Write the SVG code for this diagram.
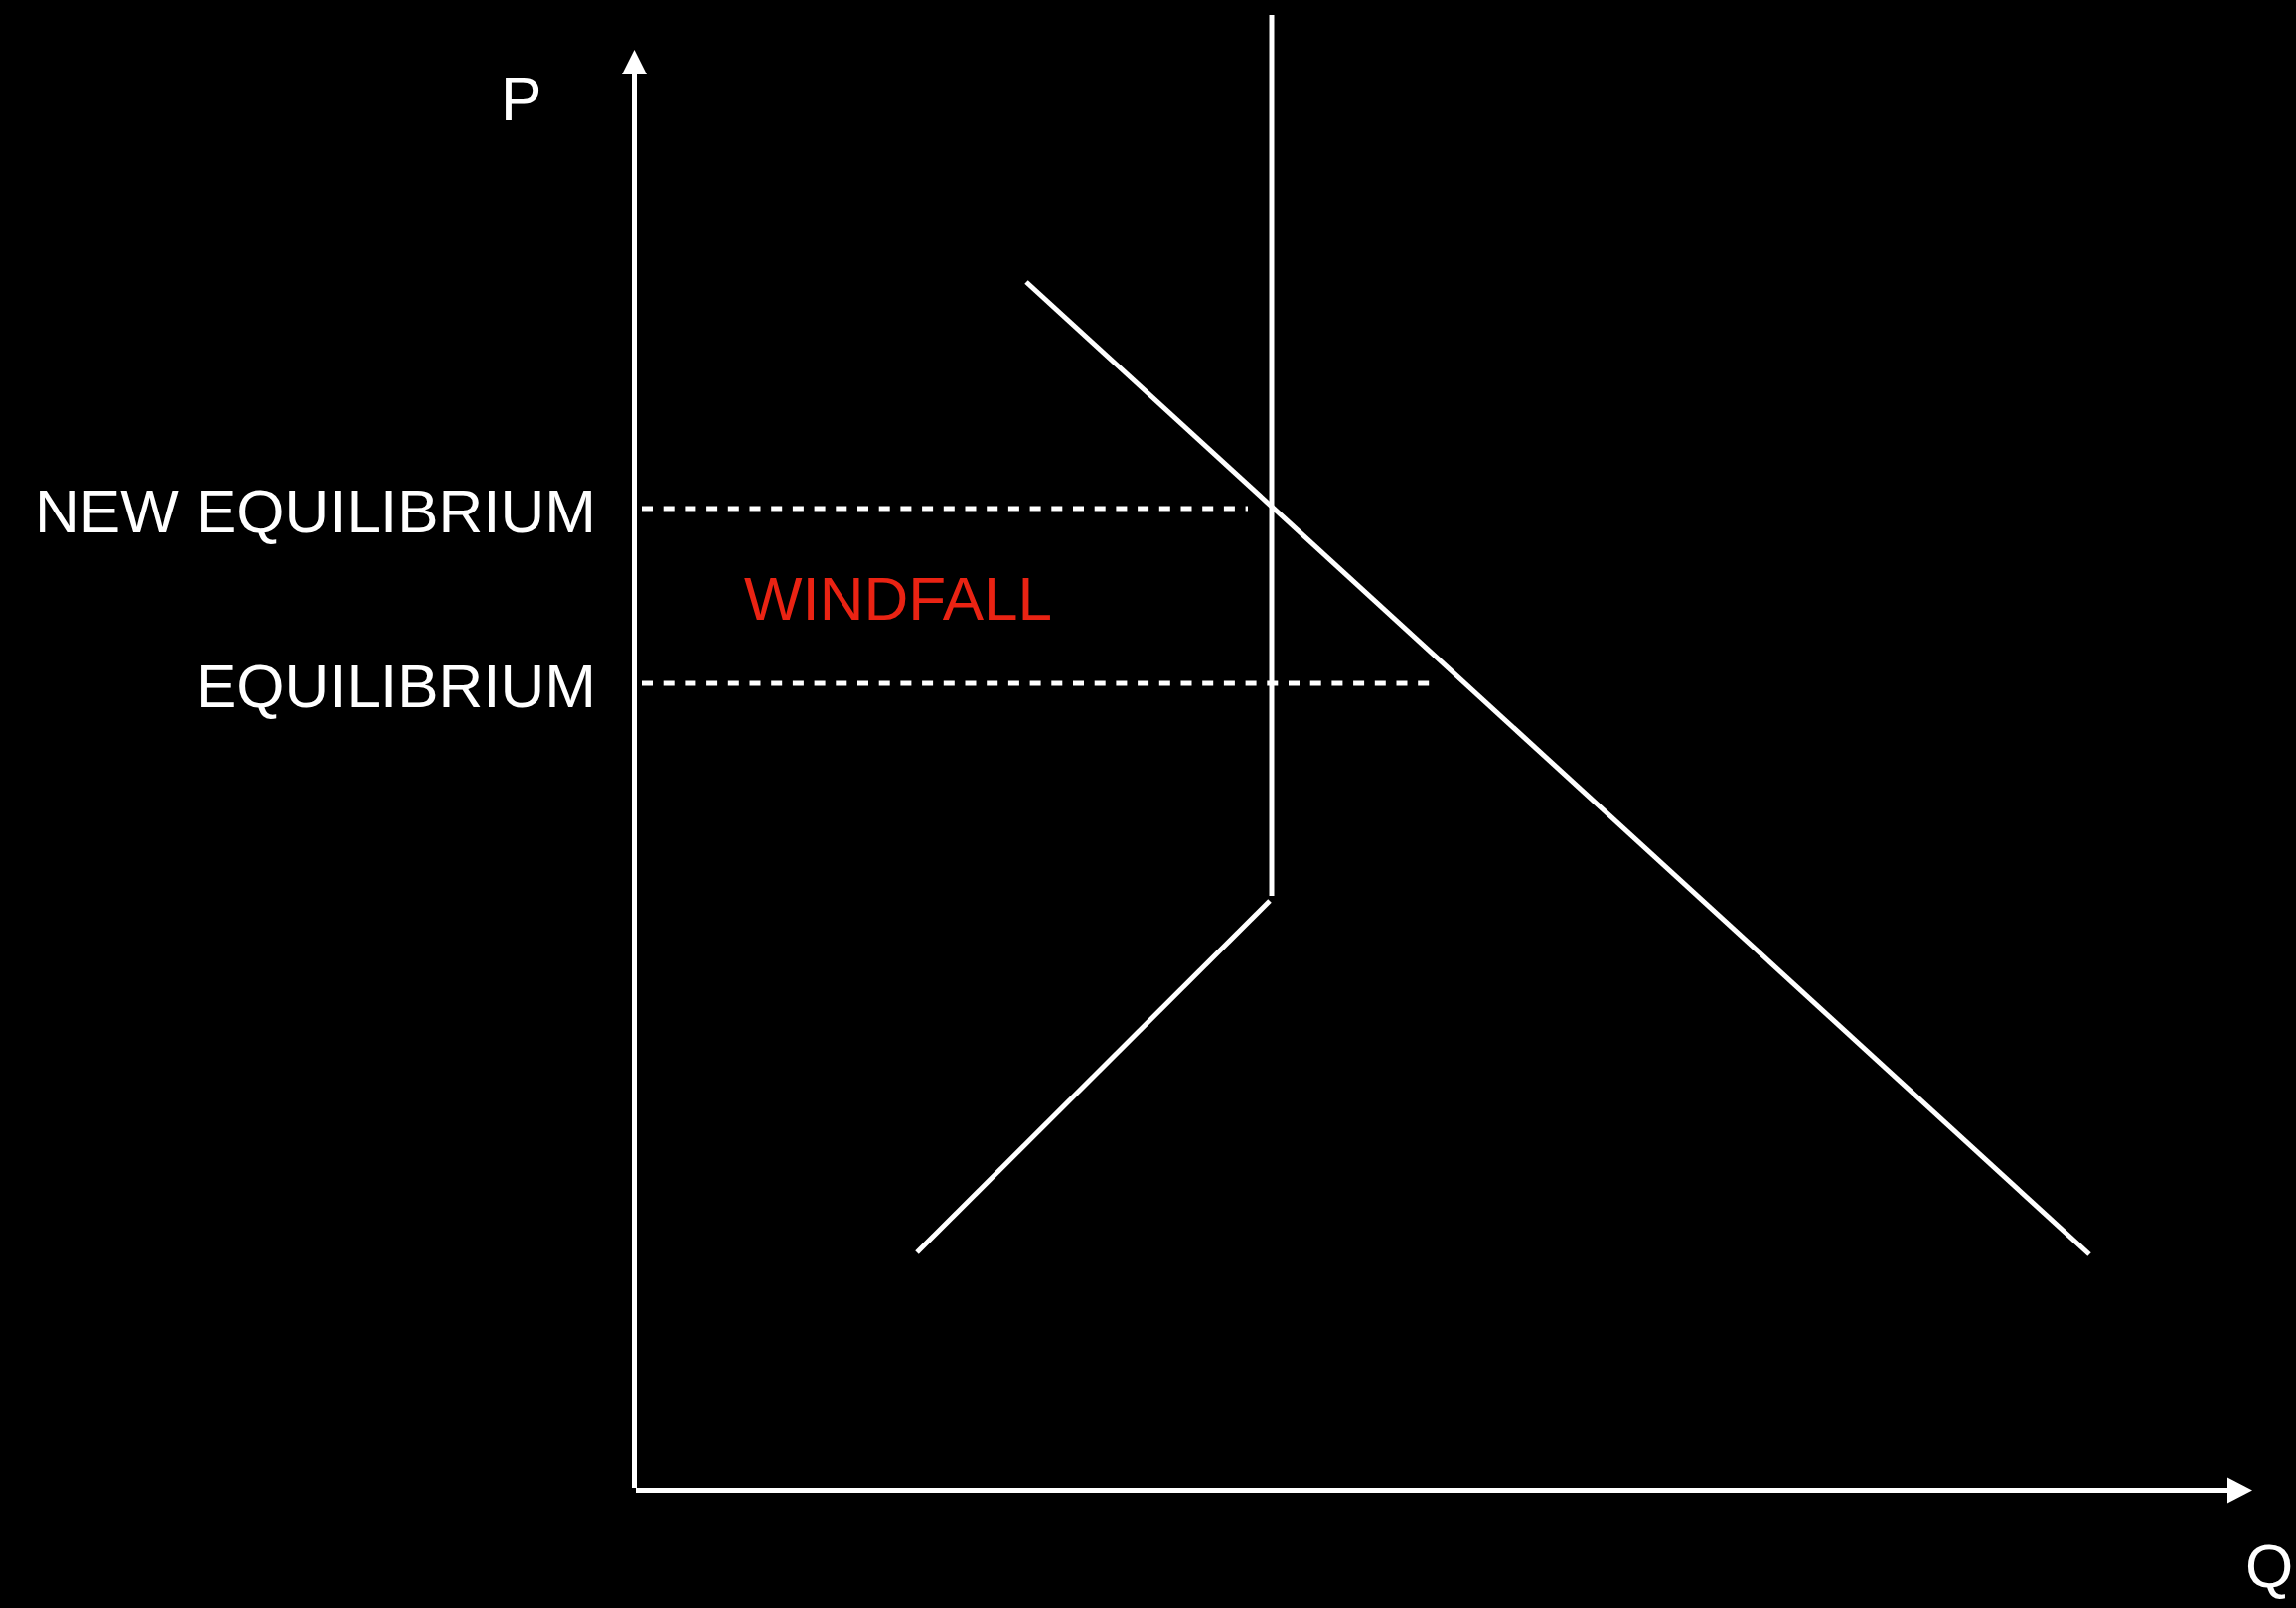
<svg xmlns="http://www.w3.org/2000/svg" width="2311" height="1619" viewBox="0 0 2311 1619">
  <style>
    .ln { stroke: #ffffff; stroke-width: 5; fill: none; }
    .dash { stroke: #ffffff; stroke-width: 5; fill: none; stroke-dasharray: 11 10.7; }
    .lbl { font-family: "Liberation Sans", Arial, sans-serif; font-size: 62px; fill: #ffffff; }
    .red { font-family: "Liberation Sans", Arial, sans-serif; font-size: 62px; fill: #ea2313; }
  </style>
  <rect x="0" y="0" width="2311" height="1619" fill="#000000"/>
  <g id="axes">
    <line class="ln" x1="638.5" y1="72" x2="638.5" y2="1498"/>
    <polygon points="638.5,50 626,75 651,75" fill="#ffffff"/>
    <line class="ln" x1="640" y1="1500.5" x2="2245" y2="1500.5"/>
    <polygon points="2267,1500.5 2242,1487.5 2242,1513.5" fill="#ffffff"/>
  </g>
  <g id="connectors">
    <line id="supply-vertical" class="ln" x1="1280" y1="15" x2="1280" y2="902"/>
    <line id="supply-lower" class="ln" x1="923" y1="1261" x2="1278" y2="907"/>
    <line id="demand" class="ln" x1="1033" y1="284" x2="2103" y2="1263"/>
    <line id="new-eq-line" class="dash" x1="646" y1="512" x2="1256" y2="512"/>
    <line id="eq-line" class="dash" x1="646" y1="688" x2="1448" y2="688"/>
  </g>
  <g id="label-p"><text class="lbl" x="504" y="121">P</text></g>
  <g id="label-q"><text class="lbl" x="2260" y="1598">Q</text></g>
  <g id="label-new-eq"><text class="lbl" x="600" y="536" text-anchor="end">NEW EQUILIBRIUM</text></g>
  <g id="label-eq"><text class="lbl" x="600" y="712" text-anchor="end">EQUILIBRIUM</text></g>
  <g id="label-windfall"><text class="red" x="749" y="624">WINDFALL</text></g>
</svg>
